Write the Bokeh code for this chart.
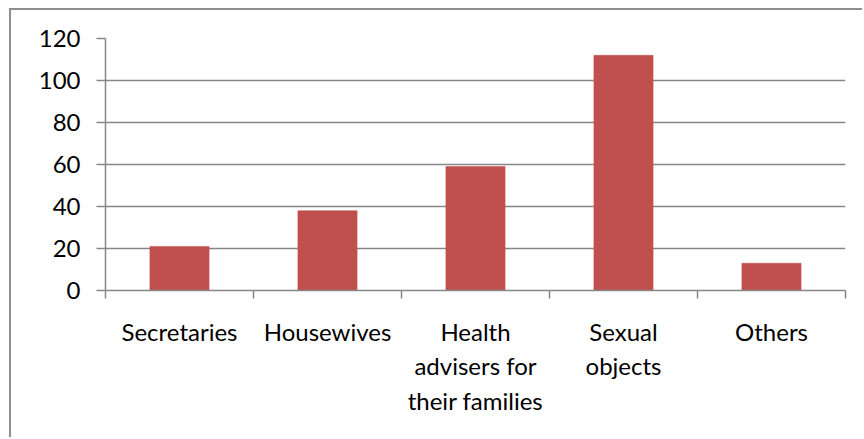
from bokeh.plotting import figure
from bokeh.models import FixedTicker, Range1d, ColumnDataSource
from bokeh.embed import file_html
from bokeh.resources import INLINE

categories = ["Secretaries", "Housewives", "Health\nadvisers for\ntheir families", "Sexual\nobjects", "Others"]
values = [21, 38, 59, 112, 13]
y_ticks = [0, 20, 40, 60, 80, 100, 120]

BAR = "#C0504D"
GRAY = "#878787"
FONT = "Lato"

n = len(categories)
centers = [i + 0.5 for i in range(n)]
source = ColumnDataSource(dict(x=centers, top=values))

p = figure(width=853, height=429, output_backend="svg", toolbar_location=None,
           x_range=Range1d(0, n), y_range=Range1d(0, 120),
           min_border_left=94, min_border_right=19, min_border_top=28, min_border_bottom=149,
           styles={"margin-left": "9px", "margin-top": "8px",
                   "border-left": "2px solid #8f8f8f", "border-top": "2px solid #8f8f8f"})
p.outline_line_color = None
p.background_fill_color = "white"
p.border_fill_color = "white"

p.vbar(x="x", top="top", width=0.4, bottom=0, source=source,
       fill_color=BAR, line_color=BAR, line_width=0.5)

# y axis
p.yaxis.ticker = FixedTicker(ticks=y_ticks)
p.yaxis.axis_line_color = GRAY
p.yaxis.axis_line_width = 1.5
p.yaxis.major_tick_line_color = GRAY
p.yaxis.major_tick_line_width = 1.5
p.yaxis.major_tick_out = 9
p.yaxis.major_tick_in = 0
p.yaxis.minor_tick_line_color = None
p.yaxis.major_label_standoff = 16
p.yaxis.major_label_text_font = FONT
p.yaxis.major_label_text_font_size = "24px"
p.yaxis.major_label_text_color = "black"

# x axis: labels at centers, ticks at boundaries (minor)
p.xaxis.ticker = FixedTicker(ticks=centers, minor_ticks=list(range(n + 1)))
p.xaxis.major_label_overrides = {c: lab for c, lab in zip(centers, categories)}
p.xaxis.axis_line_color = GRAY
p.xaxis.axis_line_width = 1.5
p.xaxis.major_tick_line_color = None
p.xaxis.major_tick_out = 0
p.xaxis.major_tick_in = 0
p.xaxis.minor_tick_line_color = GRAY
p.xaxis.minor_tick_line_width = 1.5
p.xaxis.minor_tick_out = 8
p.xaxis.minor_tick_in = 0
p.xaxis.major_label_standoff = 18
p.xaxis.major_label_text_font = FONT
p.xaxis.major_label_text_font_size = "24px"
p.xaxis.major_label_text_color = "black"

p.xgrid.grid_line_color = None
p.ygrid.ticker = FixedTicker(ticks=y_ticks)
p.ygrid.grid_line_color = GRAY
p.ygrid.grid_line_width = 1.5

open("out.html", "w").write(file_html(p, INLINE))
